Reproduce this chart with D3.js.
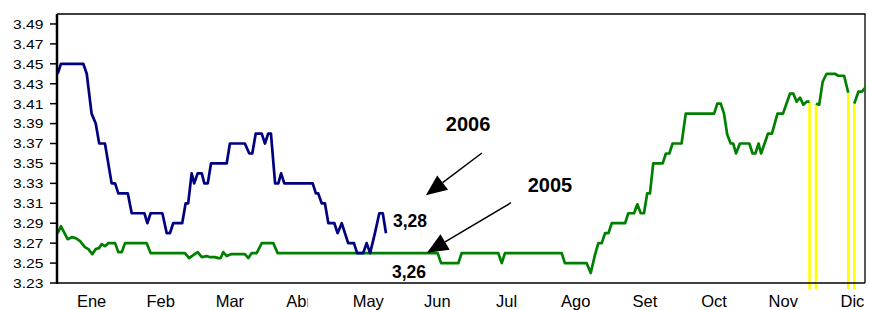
<!DOCTYPE html>
<html>
<head>
<meta charset="utf-8">
<script src="https://cdn.jsdelivr.net/npm/d3@7"></script>
<style>
  body { margin: 0; background: #fff; }
  text { font-family: "Liberation Sans", Arial, sans-serif; }
</style>
</head>
<body>
<div id="chart"></div>
<script>
// month labels and y ticks
const months = ["Ene", "Feb", "Mar", "Abr", "May", "Jun", "Jul", "Ago", "Set", "Oct", "Nov", "Dic"];
const yTicks = [3.23, 3.25, 3.27, 3.29, 3.31, 3.33, 3.35, 3.37, 3.39, 3.41, 3.43, 3.45, 3.47, 3.49];

// 2006 series (day of a 360 day year, value)
const days2006 = [0.3, 1.7, 11.4, 12.9, 15.0, 16.8, 18.3, 20.8, 23.7, 25.2, 26.6, 30.7, 32.4, 37.9, 39.2, 40.6,
  45.7, 47.6, 49.0, 50.4, 54.3, 55.8, 56.9, 58.4, 59.5, 61.0, 62.8, 63.9, 65.4, 66.8, 73.6, 75.0, 81.5, 83.4,
  84.7, 86.2, 88.8, 90.2, 91.6, 92.8, 94.6, 96.0, 97.2, 98.6, 110.9, 112.3, 113.3, 114.8, 116.2, 117.7, 120.3,
  121.7, 123.5, 126.3, 128.8, 130.2, 132.8, 134.3, 135.8, 137.9, 139.8, 141.3, 142.7];
const values2006 = [3.44, 3.45, 3.45, 3.44, 3.40, 3.39, 3.37, 3.37, 3.33, 3.33, 3.32, 3.32, 3.30, 3.30, 3.29, 3.30,
  3.30, 3.28, 3.28, 3.29, 3.29, 3.31, 3.31, 3.34, 3.33, 3.34, 3.34, 3.33, 3.33, 3.35, 3.35, 3.37, 3.37, 3.36,
  3.36, 3.38, 3.38, 3.37, 3.38, 3.38, 3.33, 3.33, 3.34, 3.33, 3.33, 3.32, 3.32, 3.31, 3.31, 3.29, 3.29,
  3.28, 3.29, 3.27, 3.27, 3.26, 3.26, 3.27, 3.26, 3.28, 3.30, 3.30, 3.28];

// 2005 series, null = missing day
const days2005 = [0.3, 1.7, 4.6, 6.4, 8.1, 10.0, 12.1, 13.6, 15.3, 16.8, 18.2, 19.4, 20.8, 22.2, 25.2, 26.6, 28.1,
  29.5, 38.9, 40.6, 55.5, 57.3, 59.1, 61.0, 62.8, 64.9, 66.1, 68.5, 70.0, 71.0, 72.1, 73.6, 75.8, 81.5, 83.0,
  84.4, 86.6, 88.8, 93.8, 95.7, 165.1, 166.6, 174.1, 175.5, 191.4, 192.9, 194.3, 218.9, 220.3, 229.7, 231.5,
  233.3, 234.8, 236.3, 237.7, 239.2, 240.6, 246.4, 247.8, 250.3, 251.7, 253.2, 254.6, 256.0, 257.2, 258.6,
  262.7, 264.1, 265.6, 267.0, 270.9, 272.7, 285.0, 286.4, 287.9, 289.3, 290.7, 292.2, 293.3, 294.5, 296.2,
  300.3, 301.7, 302.9, 304.3, 305.4, 308.4, 310.1, 312.5, 314.9, 317.9, 319.4, 320.8, 322.3, 323.7, 325.1,
  326.4, 327.8, 329.2, 330.6, 332.1, 333.8, 337.4, 338.9, 341.4, 343.2, 344.5, 345.8, 347.6, 349.1, 352.0];
const values2005 = [3.280, 3.287, 3.274, 3.276, 3.275, 3.272, 3.266, 3.264, 3.259, 3.264, 3.265, 3.269, 3.267,
  3.27, 3.27, 3.261, 3.261, 3.27, 3.27, 3.26, 3.26, 3.255, 3.258, 3.261, 3.256, 3.257, 3.256, 3.256, 3.255,
  3.255, 3.261, 3.257, 3.259, 3.259, 3.255, 3.26, 3.26, 3.27, 3.27, 3.26, 3.26, 3.25, 3.25, 3.26, 3.26, 3.25,
  3.26, 3.26, 3.25, 3.25, 3.24, 3.258, 3.27, 3.27, 3.28, 3.28, 3.29, 3.29, 3.30, 3.30, 3.309, 3.30, 3.30,
  3.32, 3.32, 3.35, 3.35, 3.36, 3.36, 3.37, 3.37, 3.40, 3.40, 3.41, 3.41, 3.40, 3.379, 3.37, 3.37, 3.36,
  3.37, 3.37, 3.36, 3.36, 3.37, 3.36, 3.38, 3.38, 3.40, 3.40, 3.42, 3.42, 3.412, 3.416, 3.409, 3.412,
  3.412, null, 3.41, 3.409, 3.432, 3.44, 3.44, 3.438, 3.438, 3.421, null, 3.41, 3.422, 3.422, 3.43];

// annotations: label text, position (day, value)
const yearLabels = [
  { text: "2006", day: 178.3, value: 3.3826, fromDay: 184.3, fromValue: 3.3605, toDay: 160.0, toValue: 3.318 },
  { text: "2005", day: 213.8, value: 3.3217, fromDay: 196.9, fromValue: 3.3106, toDay: 160.5, toValue: 3.2604 }
];
const valueLabels = [
  { text: "3,28", day: 145.7, value: 3.2865 },
  { text: "3,26", day: 145.3, value: 3.2347 }
];

const width = 869;
const height = 310;
const plotLeft = 57, plotRight = 865, plotTop = 14, plotBottom = 283;

const x = d3.scaleLinear().domain([0, 360]).range([plotLeft, 887]);
const xMonth = d3.scaleBand().domain(months).range([plotLeft, 887]);
const y = d3.scaleLinear().domain([3.23, 3.50]).range([plotBottom, plotTop]);

let svg = d3.select("#chart")
  .append("svg")
  .attr("width", width)
  .attr("height", height);

let defs = svg.append("defs");
defs.append("clipPath")
  .attr("id", "plotClip")
  .append("rect")
  .attr("x", plotLeft)
  .attr("y", plotTop)
  .attr("width", plotRight - plotLeft)
  .attr("height", plotBottom - plotTop + 6);

// the "Abr" label is cut short in the original
defs.append("clipPath")
  .attr("id", "abrClip")
  .append("rect")
  .attr("x", xMonth("Abr"))
  .attr("y", plotBottom + 2)
  .attr("width", xMonth.bandwidth() / 2 + 9)
  .attr("height", 30);

// frame
svg.append("path")
  .attr("d", `M${plotLeft},${plotTop}H${plotRight}V${plotBottom}`)
  .attr("fill", "none")
  .attr("stroke", "#000")
  .attr("stroke-width", 1.3);

// y ticks and labels
let yAxis = svg.append("g");
yAxis.selectAll("line")
  .data(yTicks)
  .enter().append("line")
  .attr("x1", plotLeft - 7)
  .attr("x2", plotLeft)
  .attr("y1", d => y(d))
  .attr("y2", d => y(d))
  .attr("stroke", "#000")
  .attr("stroke-width", 1.5);
yAxis.selectAll("text")
  .data(yTicks)
  .enter().append("text")
  .attr("transform", d => `translate(43.5,${y(d)}) scale(1.15,1)`)
  .attr("dy", "0.36em")
  .attr("text-anchor", "end")
  .attr("font-size", 13.6)
  .attr("fill", "#000")
  .text(d => d.toFixed(2));

// month labels
svg.append("g")
  .selectAll("text")
  .data(months)
  .enter().append("text")
  .attr("x", d => xMonth(d) + xMonth.bandwidth() / 2)
  .attr("y", 307)
  .attr("text-anchor", "middle")
  .attr("font-size", 16.5)
  .attr("fill", "#000")
  .attr("clip-path", d => d === "Abr" ? "url(#abrClip)" : null)
  .text(d => d);

let plot = svg.append("g").attr("clip-path", "url(#plotClip)");

const line = d3.line()
  .defined(d => d[1] !== null)
  .x(d => x(d[0]))
  .y(d => y(d[1]));

const pts2005 = days2005.map((d, i) => [d, values2005[i]]);
const pts2006 = days2006.map((d, i) => [d, values2006[i]]);

// yellow drops where 2005 has missing days
const drops = pts2005.filter((p, i) => p[1] !== null &&
  ((i > 0 && pts2005[i - 1][1] === null) || (i < pts2005.length - 1 && pts2005[i + 1][1] === null)));

plot.selectAll(".drop")
  .data(drops)
  .enter().append("line")
  .attr("class", "drop")
  .attr("x1", d => x(d[0]))
  .attr("x2", d => x(d[0]))
  .attr("y1", d => y(d[1]))
  .attr("y2", plotBottom + 6)
  .attr("stroke", "#ffff00")
  .attr("stroke-width", 2.6);

plot.append("path")
  .datum(pts2005)
  .attr("d", line)
  .attr("fill", "none")
  .attr("stroke", "#008000")
  .attr("stroke-width", 2.7)
  .attr("stroke-linejoin", "round");

plot.append("path")
  .datum(pts2006)
  .attr("d", line)
  .attr("fill", "none")
  .attr("stroke", "#000080")
  .attr("stroke-width", 2.7)
  .attr("stroke-linejoin", "round");

// axis lines
svg.append("line")
  .attr("x1", plotLeft).attr("x2", plotRight)
  .attr("y1", plotBottom).attr("y2", plotBottom)
  .attr("stroke", "#000")
  .attr("stroke-width", 1.5);
svg.append("line")
  .attr("x1", plotLeft).attr("x2", plotLeft)
  .attr("y1", plotTop).attr("y2", plotBottom + 1)
  .attr("stroke", "#000")
  .attr("stroke-width", 2.5);

// arrows + year labels
yearLabels.forEach(a => {
  const x0 = x(a.fromDay), y0 = y(a.fromValue);
  const x1 = x(a.toDay), y1 = y(a.toValue);
  const len = Math.hypot(x0 - x1, y0 - y1);
  const ux = (x0 - x1) / len, uy = (y0 - y1) / len;
  const headLen = 21, headHalf = 9;
  const bx = x1 + ux * headLen, by = y1 + uy * headLen;
  svg.append("line")
    .attr("x1", x0).attr("y1", y0)
    .attr("x2", bx).attr("y2", by)
    .attr("stroke", "#000")
    .attr("stroke-width", 1.5);
  svg.append("path")
    .attr("d", `M${x1},${y1}L${bx - uy * headHalf},${by + ux * headHalf}L${bx + uy * headHalf},${by - ux * headHalf}Z`)
    .attr("fill", "#000");
  svg.append("text")
    .attr("x", x(a.day))
    .attr("y", y(a.value))
    .attr("text-anchor", "middle")
    .attr("font-size", 20)
    .attr("font-weight", "bold")
    .text(a.text);
});

svg.selectAll(".vlabel")
  .data(valueLabels)
  .enter().append("text")
  .attr("class", "vlabel")
  .attr("x", d => x(d.day))
  .attr("y", d => y(d.value))
  .attr("font-size", 17.5)
  .attr("font-weight", "bold")
  .text(d => d.text);
</script>
</body>
</html>
